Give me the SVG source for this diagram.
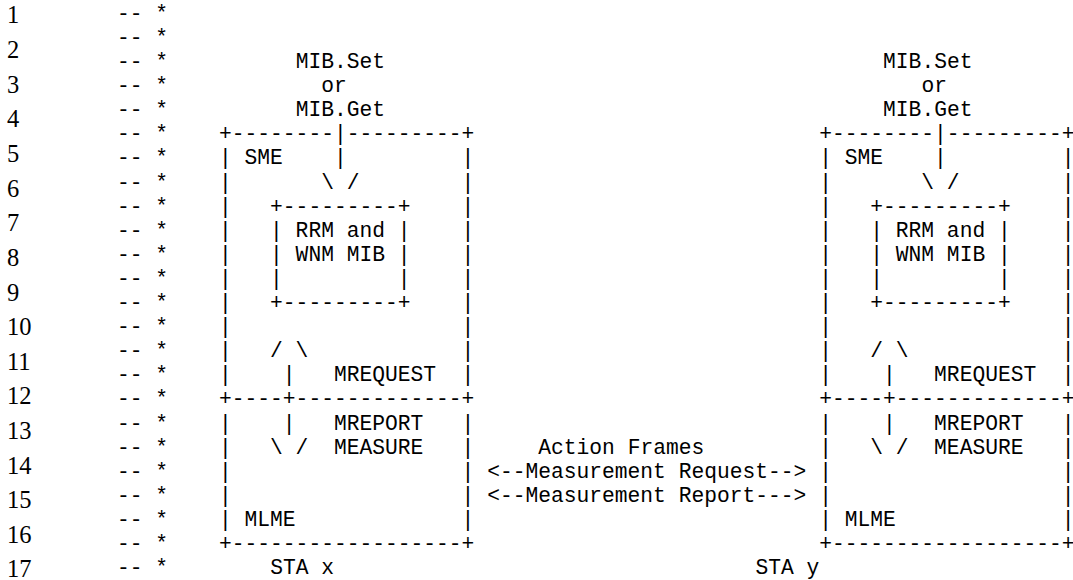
<svg xmlns="http://www.w3.org/2000/svg" width="1073" height="580" viewBox="0 0 1073 580">
<style>
.m{font-family:"Liberation Mono","DejaVu Sans Mono",monospace;font-size:21.28px;fill:#000;white-space:pre}
.n{font-family:"Liberation Serif","Times New Roman",serif;font-size:24.5px;fill:#000}
</style>
<rect width="1073" height="580" fill="#fff"/>
<g id="line-numbers" class="n">
<text x="7" y="23.3">1</text>
<text x="7" y="57.95">2</text>
<text x="7" y="92.6">3</text>
<text x="7" y="127.25">4</text>
<text x="7" y="161.9">5</text>
<text x="7" y="196.55">6</text>
<text x="7" y="231.2">7</text>
<text x="7" y="265.85">8</text>
<text x="7" y="300.5">9</text>
<text x="7" y="335.15">10</text>
<text x="7" y="369.8">11</text>
<text x="7" y="404.45">12</text>
<text x="7" y="439.1">13</text>
<text x="7" y="473.75">14</text>
<text x="7" y="508.4">15</text>
<text x="7" y="543.05">16</text>
<text x="7" y="576.5">17</text>
</g>
<g id="gutter" class="m">
<text x="116.9" y="19.8" xml:space="preserve">-- *</text>
<text x="116.9" y="43.9" xml:space="preserve">-- *</text>
<text x="116.9" y="68" xml:space="preserve">-- *</text>
<text x="116.9" y="92.1" xml:space="preserve">-- *</text>
<text x="116.9" y="116.2" xml:space="preserve">-- *</text>
<text x="116.9" y="140.3" xml:space="preserve">-- *</text>
<text x="116.9" y="164.4" xml:space="preserve">-- *</text>
<text x="116.9" y="188.5" xml:space="preserve">-- *</text>
<text x="116.9" y="212.6" xml:space="preserve">-- *</text>
<text x="116.9" y="236.7" xml:space="preserve">-- *</text>
<text x="116.9" y="260.8" xml:space="preserve">-- *</text>
<text x="116.9" y="284.9" xml:space="preserve">-- *</text>
<text x="116.9" y="309" xml:space="preserve">-- *</text>
<text x="116.9" y="333.1" xml:space="preserve">-- *</text>
<text x="116.9" y="357.2" xml:space="preserve">-- *</text>
<text x="116.9" y="381.3" xml:space="preserve">-- *</text>
<text x="116.9" y="405.4" xml:space="preserve">-- *</text>
<text x="116.9" y="429.5" xml:space="preserve">-- *</text>
<text x="116.9" y="453.6" xml:space="preserve">-- *</text>
<text x="116.9" y="477.7" xml:space="preserve">-- *</text>
<text x="116.9" y="501.8" xml:space="preserve">-- *</text>
<text x="116.9" y="525.9" xml:space="preserve">-- *</text>
<text x="116.9" y="550" xml:space="preserve">-- *</text>
<text x="116.9" y="574.1" xml:space="preserve">-- *</text>
</g>
<g id="sta-x" class="m">
<text x="295.68" y="68">MIB.Set</text>
<text x="321.22" y="92.1">or</text>
<text x="295.68" y="116.2">MIB.Get</text>
<text x="219.06" y="140.3" xml:space="preserve">+--------|---------+</text>
<text x="219.06" y="164.4" xml:space="preserve">| SME    |         |</text>
<text x="219.06" y="188.5" xml:space="preserve">|       \ /        |</text>
<text x="219.06" y="212.6" xml:space="preserve">|   +---------+    |</text>
<text x="219.06" y="236.7" xml:space="preserve">|   | RRM and |    |</text>
<text x="219.06" y="260.8" xml:space="preserve">|   | WNM MIB |    |</text>
<text x="219.06" y="284.9" xml:space="preserve">|   |         |    |</text>
<text x="219.06" y="309" xml:space="preserve">|   +---------+    |</text>
<text x="219.06" y="333.1" xml:space="preserve">|                  |</text>
<text x="219.06" y="357.2" xml:space="preserve">|   / \            |</text>
<text x="219.06" y="381.3" xml:space="preserve">|    |   MREQUEST  |</text>
<text x="219.06" y="405.4" xml:space="preserve">+----+-------------+</text>
<text x="219.06" y="429.5" xml:space="preserve">|    |   MREPORT   |</text>
<text x="219.06" y="453.6" xml:space="preserve">|   \ /  MEASURE   |</text>
<text x="219.06" y="477.7" xml:space="preserve">|                  |</text>
<text x="219.06" y="501.8" xml:space="preserve">|                  |</text>
<text x="219.06" y="525.9" xml:space="preserve">| MLME             |</text>
<text x="219.06" y="550" xml:space="preserve">+------------------+</text>
<text x="270.14" y="574.1" xml:space="preserve">STA x</text>
</g>
<g id="sta-y" class="m">
<text x="883.1" y="68">MIB.Set</text>
<text x="921.41" y="92.1">or</text>
<text x="883.1" y="116.2">MIB.Get</text>
<text x="819.25" y="140.3" xml:space="preserve">+--------|---------+</text>
<text x="819.25" y="164.4" xml:space="preserve">| SME    |         |</text>
<text x="819.25" y="188.5" xml:space="preserve">|       \ /        |</text>
<text x="819.25" y="212.6" xml:space="preserve">|   +---------+    |</text>
<text x="819.25" y="236.7" xml:space="preserve">|   | RRM and |    |</text>
<text x="819.25" y="260.8" xml:space="preserve">|   | WNM MIB |    |</text>
<text x="819.25" y="284.9" xml:space="preserve">|   |         |    |</text>
<text x="819.25" y="309" xml:space="preserve">|   +---------+    |</text>
<text x="819.25" y="333.1" xml:space="preserve">|                  |</text>
<text x="819.25" y="357.2" xml:space="preserve">|   / \            |</text>
<text x="819.25" y="381.3" xml:space="preserve">|    |   MREQUEST  |</text>
<text x="819.25" y="405.4" xml:space="preserve">+----+-------------+</text>
<text x="819.25" y="429.5" xml:space="preserve">|    |   MREPORT   |</text>
<text x="819.25" y="453.6" xml:space="preserve">|   \ /  MEASURE   |</text>
<text x="819.25" y="477.7" xml:space="preserve">|                  |</text>
<text x="819.25" y="501.8" xml:space="preserve">|                  |</text>
<text x="819.25" y="525.9" xml:space="preserve">| MLME             |</text>
<text x="819.25" y="550" xml:space="preserve">+------------------+</text>
<text x="755.4" y="574.1" xml:space="preserve">STA y</text>
</g>
<g id="connectors" class="m">
<text x="538.31" y="453.6" xml:space="preserve">Action Frames</text>
<text x="487.23" y="477.7" xml:space="preserve">&lt;--Measurement Request--&gt;</text>
<text x="487.23" y="501.8" xml:space="preserve">&lt;--Measurement Report---&gt;</text>
</g>
</svg>
